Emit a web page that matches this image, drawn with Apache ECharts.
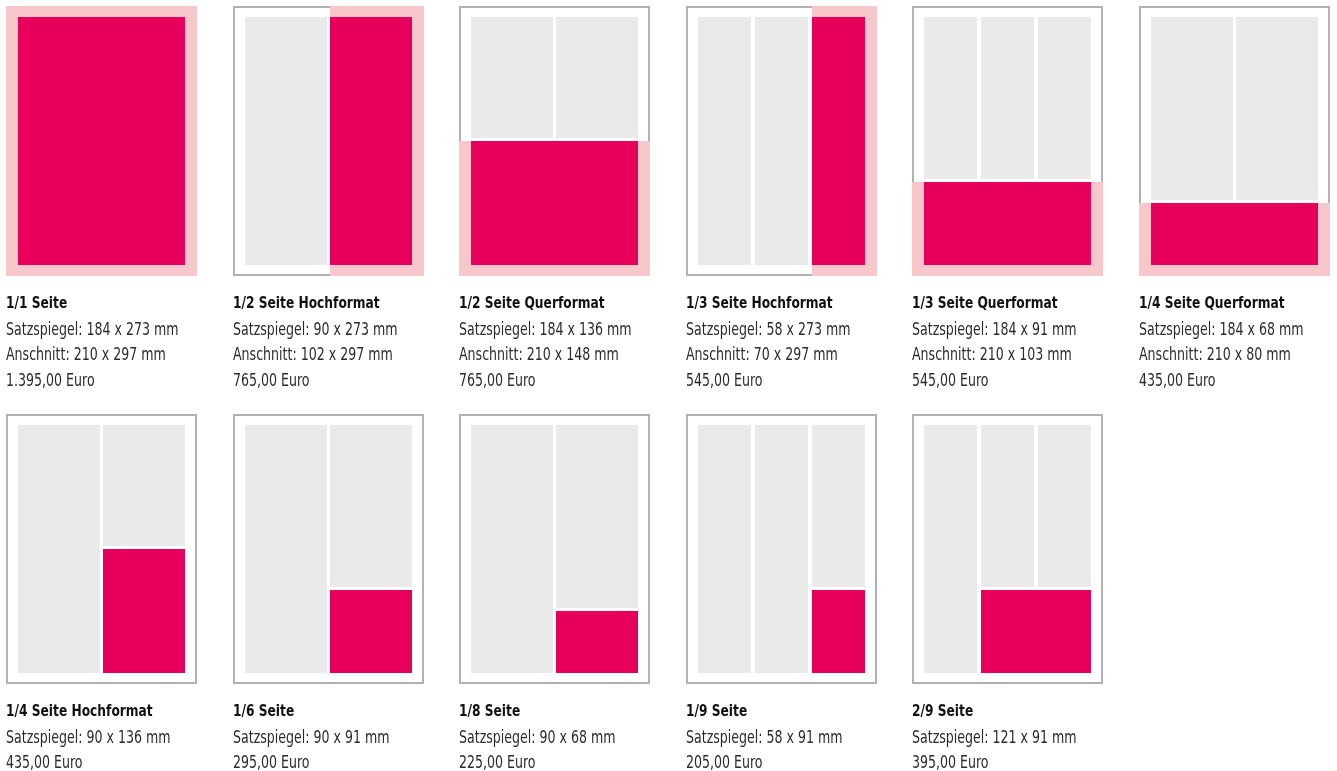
<!DOCTYPE html>
<html>
<head>
<meta charset="utf-8">
<script src="https://cdn.jsdelivr.net/npm/echarts@6/dist/echarts.min.js"></script>
<style>
  html, body { margin: 0; padding: 0; background: #fff; }
  #chart { width: 1337px; height: 771px; }
</style>
</head>
<body>
<div id="chart"></div>
<script>
// --- Daten: Anzeigenformate ---
const formatNames = [
  "1/1 Seite", "1/2 Seite Hochformat", "1/2 Seite Querformat", "1/3 Seite Hochformat",
  "1/3 Seite Querformat", "1/4 Seite Querformat", "1/4 Seite Hochformat", "1/6 Seite",
  "1/8 Seite", "1/9 Seite", "2/9 Seite",
];
const satzspiegel = [
  "184 x 273 mm", "90 x 273 mm", "184 x 136 mm", "58 x 273 mm", "184 x 91 mm", "184 x 68 mm",
  "90 x 136 mm", "90 x 91 mm", "90 x 68 mm", "58 x 91 mm", "121 x 91 mm",
];
const anschnitt = [
  "210 x 297 mm", "102 x 297 mm", "210 x 148 mm", "70 x 297 mm", "210 x 103 mm", "210 x 80 mm",
  null, null, null, null, null,
];
const prices = [
  "1.395,00 Euro", "765,00 Euro", "765,00 Euro", "545,00 Euro", "545,00 Euro", "435,00 Euro",
  "435,00 Euro", "295,00 Euro", "225,00 Euro", "205,00 Euro", "395,00 Euro",
];

// Seite in mm (A4)
const PAGE_W = 210;
const PAGE_H = 297;

// Flächen je Format in mm: [x0, y0, x1, y1, art]  art: 0 = Anschnitt, 1 = Spalte, 2 = Anzeige
const formatRects = [
  [[0, 0, 210, 297, 0], [13, 12, 197, 285, 2]],
  [[13, 12, 103, 285, 1], [107, 0, 210, 297, 0], [107, 12, 197, 285, 2]],
  [[13, 12, 103, 145, 1], [107, 12, 197, 145, 1], [0, 149, 210, 297, 0], [13, 149, 197, 285, 2]],
  [[13, 12, 71, 285, 1], [76, 12, 134, 285, 1], [139, 0, 210, 297, 0], [139, 12, 197, 285, 2]],
  [[13, 12, 71, 190, 1], [76, 12, 134, 190, 1], [139, 12, 197, 190, 1], [0, 194, 210, 297, 0], [13, 194, 197, 285, 2]],
  [[13, 12, 103, 213, 1], [107, 12, 197, 213, 1], [0, 217, 210, 297, 0], [13, 217, 197, 285, 2]],
  [[13, 12, 103, 285, 1], [107, 12, 197, 145, 1], [107, 149, 197, 285, 2]],
  [[13, 12, 103, 285, 1], [107, 12, 197, 190, 1], [107, 194, 197, 285, 2]],
  [[13, 12, 103, 285, 1], [107, 12, 197, 213, 1], [107, 217, 197, 285, 2]],
  [[13, 12, 71, 285, 1], [76, 12, 134, 285, 1], [139, 12, 197, 190, 1], [139, 194, 197, 285, 2]],
  [[13, 12, 71, 285, 1], [76, 12, 134, 190, 1], [139, 12, 197, 190, 1], [76, 194, 197, 285, 2]],
];

const COLORS = ["#F8C7CC", "#EAEAEA", "#E6005C"];
const FONT = '"DejaVu Sans Condensed", "DejaVu Sans", sans-serif';

// --- Layout ---
const THUMB_W = 191;
const THUMB_H = 270;
const COL_STEP = 226.6;
const ROW_TOPS = [6, 414];
const PER_ROW = 6;

const grids = [];
const xAxes = [];
const yAxes = [];
const series = [];
const graphics = [];

formatNames.forEach((name, i) => {
  const left = Math.round(6 + (i % PER_ROW) * COL_STEP);
  const top = ROW_TOPS[Math.floor(i / PER_ROW)];

  grids.push({ left: left, top: top, width: THUMB_W, height: THUMB_H });
  xAxes.push({ type: "value", gridIndex: i, min: 0, max: PAGE_W, show: false });
  yAxes.push({ type: "value", gridIndex: i, min: 0, max: PAGE_H, inverse: true, show: false });

  // Seitenrahmen zuerst, dann Anschnitt, Spalten, Anzeige
  const data = [[0, 0, PAGE_W, PAGE_H, 3]].concat(formatRects[i]);

  series.push({
    type: "custom",
    xAxisIndex: i,
    yAxisIndex: i,
    silent: true,
    data: data,
    renderItem: (params, api) => {
      const p0 = api.coord([api.value(0), api.value(1)]);
      const p1 = api.coord([api.value(2), api.value(3)]);
      const kind = api.value(4);
      const x0 = Math.round(p0[0]);
      const y0 = Math.round(p0[1]);
      const x1 = Math.round(p1[0]);
      const y1 = Math.round(p1[1]);
      if (kind === 3) {
        return {
          type: "rect",
          shape: { x: x0 + 1, y: y0 + 1, width: x1 - x0 - 2, height: y1 - y0 - 2 },
          style: { fill: "#fff", stroke: "#B2B2B2", lineWidth: 2 },
        };
      }
      return {
        type: "rect",
        shape: { x: x0, y: y0, width: x1 - x0, height: y1 - y0 },
        style: { fill: COLORS[kind] },
      };
    },
  });

  // Beschriftung unter der Seite (schmal gestaucht wie DIN Condensed)
  const lines = [
    "Satzspiegel: " + satzspiegel[i],
    anschnitt[i] ? "Anschnitt: " + anschnitt[i] : null,
    prices[i],
  ].filter((t) => t);

  graphics.push({
    type: "text",
    x: left,
    y: top + 298,
    scaleX: 0.85,
    style: {
      text: name,
      font: "bold 16px " + FONT,
      fill: "#111",
      verticalAlign: "middle",
    },
  });
  lines.forEach((t, k) => {
    graphics.push({
      type: "text",
      x: left,
      y: top + 324 + k * 25.5,
      scaleX: 0.8,
      style: {
        text: t,
        font: "17.5px " + FONT,
        fill: "#2b2b2b",
        verticalAlign: "middle",
      },
    });
  });
});

const chart = echarts.init(document.getElementById("chart"));
chart.setOption({
  animation: false,
  grid: grids,
  xAxis: xAxes,
  yAxis: yAxes,
  series: series,
  graphic: graphics,
});
</script>
</body>
</html>
